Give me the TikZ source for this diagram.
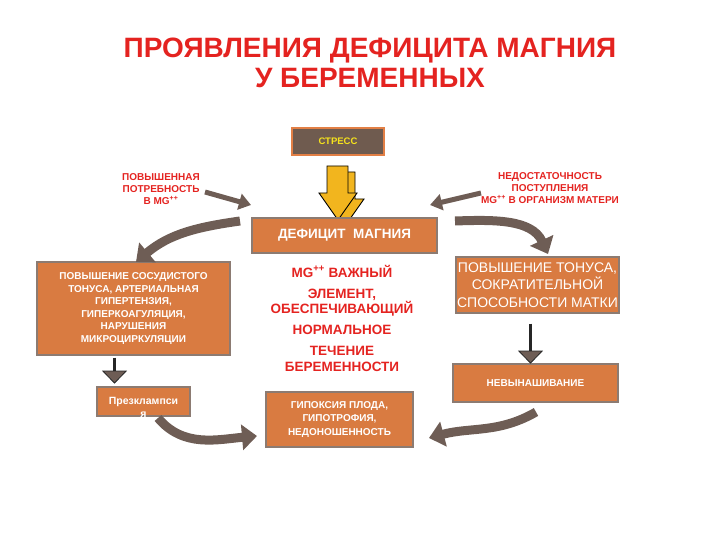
\documentclass[tikz,border=0pt]{standalone}
\usepackage{fontspec}
\setmainfont{Liberation Sans}
\usetikzlibrary{arrows.meta}
\definecolor{boxor}{HTML}{D97B41}
\definecolor{boxed}{HTML}{8C7B72}
\definecolor{arr}{HTML}{6E5D55}
\definecolor{redt}{HTML}{E42320}
\definecolor{stressfill}{HTML}{6F5B4F}
\definecolor{stressed}{HTML}{E27F45}
\definecolor{ylw}{HTML}{F2B51E}
\definecolor{ylwtxt}{HTML}{F5E21C}
\begin{document}
\begin{tikzpicture}[x=1pt,y=-1pt,
 box/.style={draw=boxed,fill=boxor,line width=1.3pt,text=white,align=center,inner sep=0pt},
 boldsmall/.style={font=\fontsize{10}{12.5}\selectfont\bfseries},
 redlbl/.style={text=redt,align=center,font=\fontsize{10}{12}\selectfont\bfseries},
 curv/.style={draw=arr,line width=9pt,-{Triangle[length=15pt,width=25pt]}},
 strt/.style={draw=arr,line width=5pt,-{Triangle[length=12pt,width=16pt]}},
 downarr/.style={draw=black!85,line width=3.5pt,-{Triangle[length=13pt,width=25pt,line width=0.8pt,fill=arr]}},
 yarrow/.style={fill=ylw,draw=black,line width=0.9pt,line join=miter}
]
\useasboundingbox (0,0) rectangle (720,540);

% title
\node[text=redt,font=\fontsize{28}{30}\selectfont\bfseries,align=center] (title) at (370,63) {ПРОЯВЛЕНИЯ ДЕФИЦИТА МАГНИЯ\\У БЕРЕМЕННЫХ};

% stress
\node[draw=stressed,fill=stressfill,line width=1.5pt,minimum width=92pt,minimum height=27pt,inner sep=0pt,text=ylwtxt,font=\fontsize{9.5}{10}\selectfont\bfseries] (stress) at (338,141.5) {СТРЕСС};

% yellow block arrow (back and front)
\begin{scope}[shift={(7,6)}]
\draw[yarrow] (327,166) -- (348,166) -- (348,193) -- (357,193) -- (338,220) -- (319,193) -- (327,193) -- cycle;
\end{scope}
\draw[yarrow] (327,166) -- (348,166) -- (348,193) -- (357,193) -- (338,220) -- (319,193) -- (327,193) -- cycle;

% deficit box
\node[box,minimum width=185pt,minimum height=35pt,font=\fontsize{13.5}{15}\selectfont\bfseries] (def) at (344.5,235.5) {ДЕФИЦИТ\ \ МАГНИЯ};

% side labels
\node[redlbl] (lneed) at (161,189) {ПОВЫШЕННАЯ\\ПОТРЕБНОСТЬ\\В MG\textsuperscript{++}};
\node[redlbl] (rlack) at (550,188) {НЕДОСТАТОЧНОСТЬ\\ПОСТУПЛЕНИЯ\\MG\textsuperscript{++} В ОРГАНИЗМ МАТЕРИ};

\coordinate (la1) at (205,192);
\coordinate (la2) at (251,205);
\coordinate (ra1) at (481,193);
\coordinate (ra2) at (430,205);
\draw[strt] (la1) -- (la2);
\draw[strt] (ra1) -- (ra2);

% boxes
\node[box,minimum width=193pt,minimum height=93pt,boldsmall] (lbox) at (133.5,308.5) {ПОВЫШЕНИЕ СОСУДИСТОГО\\ТОНУСА, АРТЕРИАЛЬНАЯ\\ГИПЕРТЕНЗИЯ,\\ГИПЕРКОАГУЛЯЦИЯ,\\НАРУШЕНИЯ\\МИКРОЦИРКУЛЯЦИИ};
\node[box,minimum width=163pt,minimum height=56pt,font=\fontsize{14}{17.5}\selectfont] (rbox) at (537.5,285) {ПОВЫШЕНИЕ ТОНУСА,\\СОКРАТИТЕЛЬНОЙ\\СПОСОБНОСТИ МАТКИ};
\node[box,minimum width=165pt,minimum height=38pt,boldsmall] (nev) at (535.5,383) {НЕВЫНАШИВАНИЕ};
\node[box,minimum width=93pt,minimum height=29pt] (pre) at (143.5,401.5) {};
\node[text=white,align=center,inner sep=0pt,font=\fontsize{10.5}{13}\selectfont\bfseries] (pretxt) at (143.5,407) {Презклампси\\я};
\node[box,minimum width=147pt,minimum height=55pt,font=\fontsize{10}{13.5}\selectfont\bfseries] (gip) at (339.5,419.5) {ГИПОКСИЯ ПЛОДА,\\ГИПОТРОФИЯ,\\НЕДОНОШЕННОСТЬ};

% center text
\node[text=redt,align=center,font=\fontsize{13.5}{15.5}\selectfont\bfseries,inner sep=0pt] (mid) at (342,318) {MG\textsuperscript{++} ВАЖНЫЙ\\[5.5pt]ЭЛЕМЕНТ,\\ОБЕСПЕЧИВАЮЩИЙ\\[5.5pt]НОРМАЛЬНОЕ\\[5.5pt]ТЕЧЕНИЕ\\БЕРЕМЕННОСТИ};

% curved arrows
\coordinate (c1a) at (240,221);
\coordinate (c1b) at (136,262);
\coordinate (c2a) at (455,221);
\coordinate (c2b) at (548,254);
\coordinate (c3a) at (158,418);
\coordinate (c3b) at (257,436);
\coordinate (c4a) at (536,412);
\coordinate (c4b) at (429,438);
\draw[curv] (c1a) to[out=188,in=40] (c1b);
\draw[curv] (c2a) to[out=2,in=115] (c2b);
\draw[curv] (c3a) to[out=-50,in=185] (c3b);
\draw[curv] (c4a) to[out=-150,in=15] (c4b);

% down arrows
\draw[downarr] (lbox.south -| pre.north) ++(-29,2) coordinate (d1a) -- ++(0,26) coordinate (d1b);
\draw[downarr] (rbox.south) ++(-7,10) coordinate (d2a) -- ++(0,40) coordinate (d2b);
\end{tikzpicture}
\end{document}
